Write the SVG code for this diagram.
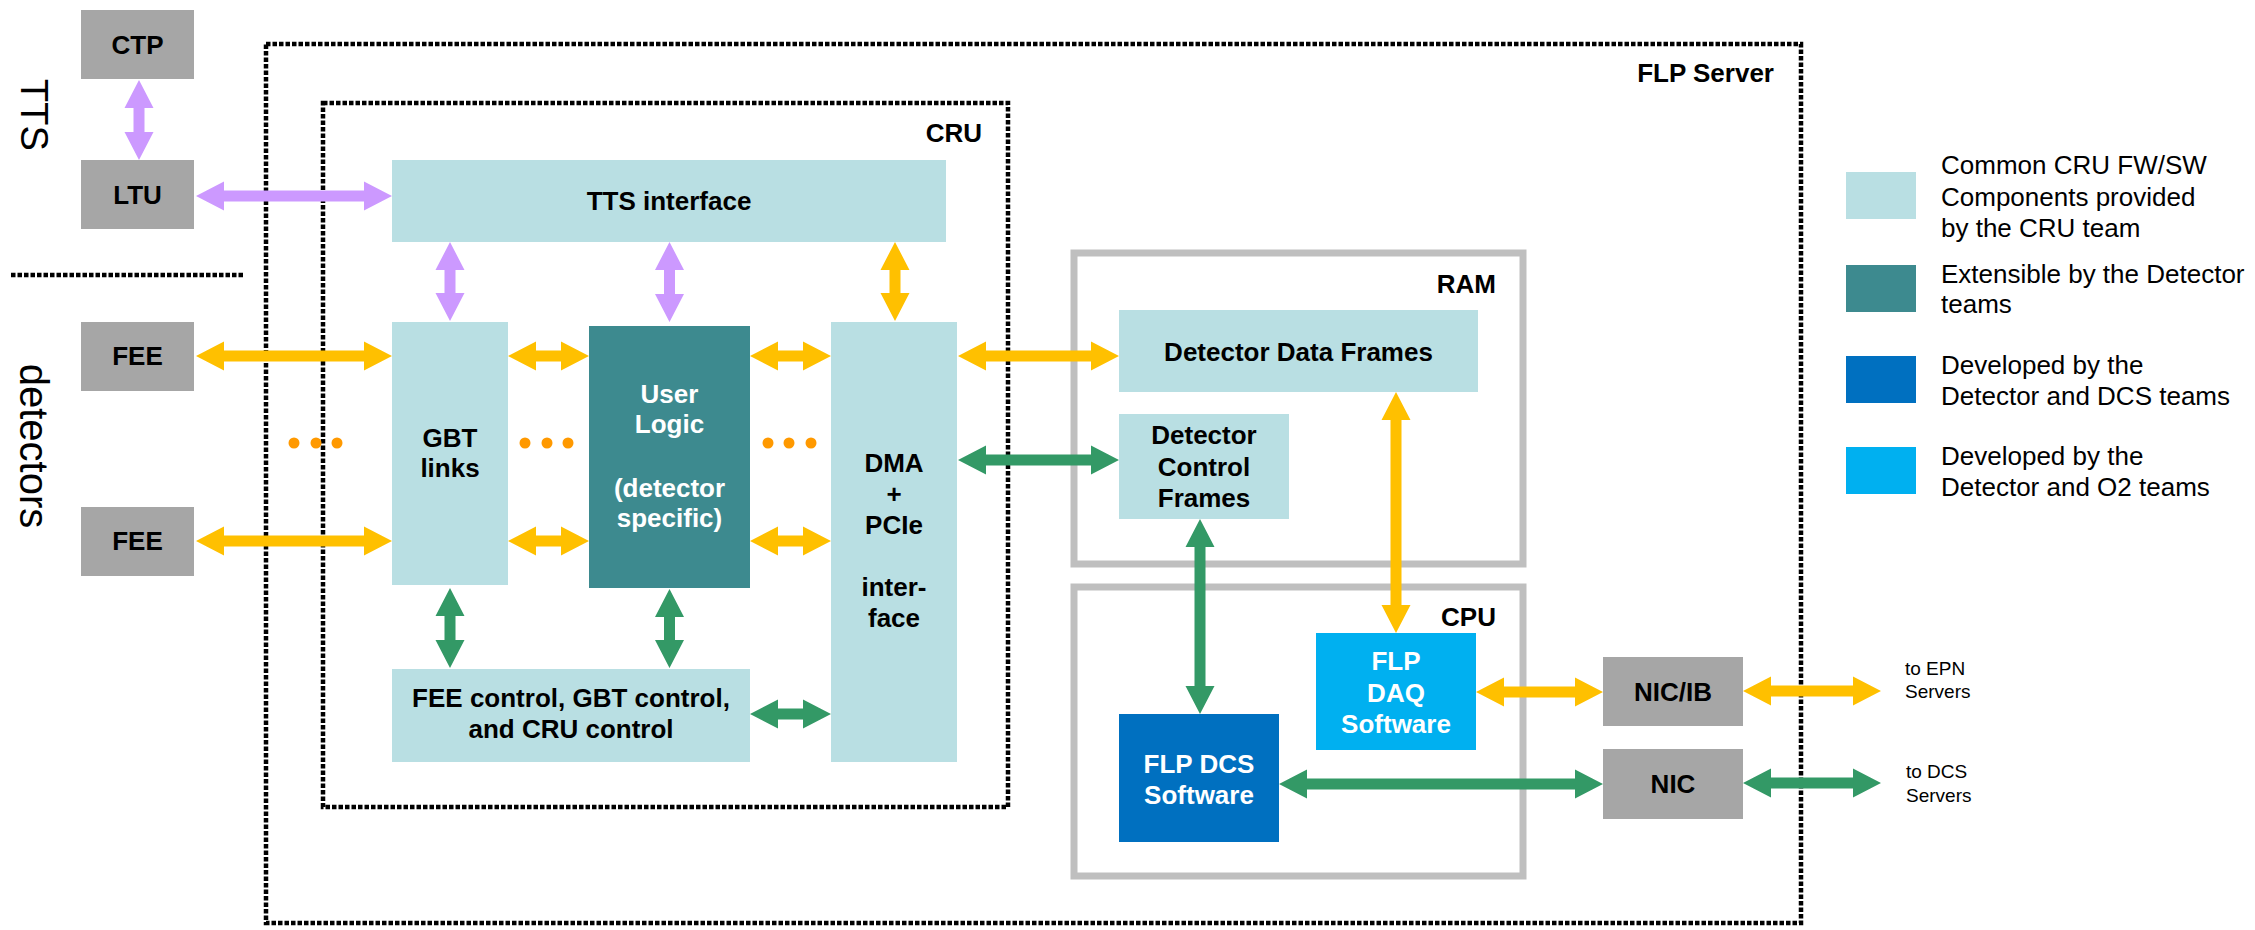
<svg xmlns="http://www.w3.org/2000/svg" width="2255" height="930" viewBox="0 0 2255 930">
<style>
text{font-family:"Liberation Sans",Arial,sans-serif;}
.b{font-weight:bold;font-size:26px;fill:#000;}
.bw{font-weight:bold;font-size:26px;fill:#fff;}
.m{text-anchor:middle;}
.e{text-anchor:end;}
.lg{font-size:26px;fill:#000;}
.sm{font-size:19px;fill:#000;}
.side{font-size:38px;fill:#000;text-anchor:middle;}
.gray{fill:#A6A6A6;}
.cyan{fill:#B9DFE3;}
.teal{fill:#3D8A8F;}
.dblue{fill:#0070C0;}
.lblue{fill:#00B0F0;}
.dot{fill:none;stroke:#000;stroke-width:4.5;stroke-dasharray:4.5 2;}
.mem{fill:none;stroke:#BFBFBF;stroke-width:7;}
.pu{fill:#CC99FF;}
.or{fill:#FFC000;}
.gr{fill:#339966;}
.od{fill:#FF9900;}
</style>

<g id="frames">
<rect class="dot" x="266" y="44" width="1535" height="879"/>
<text class="b e" x="1774" y="82">FLP Server</text>
<rect class="dot" x="323" y="103" width="685" height="704"/>
<text class="b e" x="982" y="142">CRU</text>
<line class="dot" x1="11" y1="275" x2="243" y2="275"/>
<text class="side" transform="translate(21,115) rotate(90)">TTS</text>
<text class="side" style="font-size:40px" transform="translate(20,446) rotate(90)">detectors</text>
</g>

<g id="ram">
<rect class="mem" x="1074" y="253" width="449" height="311"/>
<text class="b e" x="1496" y="293">RAM</text>
</g>
<g id="cpu">
<rect class="mem" x="1074" y="587" width="449" height="289"/>
<text class="b e" x="1496" y="626">CPU</text>
</g>

<g id="ctp"><rect class="gray" x="81" y="10" width="113" height="69"/><text class="b m" x="137.5" y="54">CTP</text></g>
<g id="ltu"><rect class="gray" x="81" y="160" width="113" height="69"/><text class="b m" x="137.5" y="204">LTU</text></g>
<g id="fee1"><rect class="gray" x="81" y="322" width="113" height="69"/><text class="b m" x="137.5" y="365">FEE</text></g>
<g id="fee2"><rect class="gray" x="81" y="507" width="113" height="69"/><text class="b m" x="137.5" y="550">FEE</text></g>

<g id="tts-interface"><rect class="cyan" x="392" y="160" width="554" height="82"/><text class="b m" x="669" y="210">TTS interface</text></g>
<g id="gbt-links"><rect class="cyan" x="392" y="322" width="116" height="263"/><text class="b m" x="450" y="447">GBT</text><text class="b m" x="450" y="477">links</text></g>
<g id="user-logic"><rect class="teal" x="589" y="326" width="161" height="262"/>
<text class="bw m" x="669.5" y="403">User</text><text class="bw m" x="669.5" y="433">Logic</text>
<text class="bw m" x="669.5" y="497">(detector</text><text class="bw m" x="669.5" y="527">specific)</text></g>
<g id="dma"><rect class="cyan" x="831" y="322" width="126" height="440"/>
<text class="b m" x="894" y="472">DMA</text><text class="b m" x="894" y="503">+</text><text class="b m" x="894" y="534">PCIe</text>
<text class="b m" x="894" y="596">inter-</text><text class="b m" x="894" y="627">face</text></g>
<g id="fee-control"><rect class="cyan" x="392" y="669" width="358" height="93"/>
<text class="b m" x="571" y="707">FEE control, GBT control,</text><text class="b m" x="571" y="738">and CRU control</text></g>

<g id="ddf"><rect class="cyan" x="1119" y="310" width="359" height="82"/><text class="b m" x="1298.5" y="361">Detector Data Frames</text></g>
<g id="dcf"><rect class="cyan" x="1119" y="414" width="170" height="105"/>
<text class="b m" x="1204" y="444">Detector</text><text class="b m" x="1204" y="476">Control</text><text class="b m" x="1204" y="507">Frames</text></g>
<g id="flp-daq"><rect class="lblue" x="1316" y="633" width="160" height="117"/>
<text class="bw m" x="1396" y="670">FLP</text><text class="bw m" x="1396" y="702">DAQ</text><text class="bw m" x="1396" y="733">Software</text></g>
<g id="flp-dcs"><rect class="dblue" x="1119" y="714" width="160" height="128"/>
<text class="bw m" x="1199" y="773">FLP DCS</text><text class="bw m" x="1199" y="804">Software</text></g>
<g id="nic-ib"><rect class="gray" x="1603" y="657" width="140" height="69"/><text class="b m" x="1673" y="701">NIC/IB</text></g>
<g id="nic"><rect class="gray" x="1603" y="749" width="140" height="70"/><text class="b m" x="1673" y="793">NIC</text></g>

<g id="outputs">
<text class="sm" x="1905" y="675">to EPN</text><text class="sm" x="1905" y="698">Servers</text>
<text class="sm" x="1906" y="778">to DCS</text><text class="sm" x="1906" y="802">Servers</text>
</g>

<g id="legend">
<rect class="cyan" x="1846" y="172" width="70" height="47"/>
<text class="lg" x="1941" y="174">Common CRU FW/SW</text><text class="lg" x="1941" y="206">Components provided</text><text class="lg" x="1941" y="237">by the CRU team</text>
<rect class="teal" x="1846" y="265" width="70" height="47"/>
<text class="lg" x="1941" y="283">Extensible by the Detector</text><text class="lg" x="1941" y="313">teams</text>
<rect class="dblue" x="1846" y="356" width="70" height="47"/>
<text class="lg" x="1941" y="374">Developed by the</text><text class="lg" x="1941" y="405">Detector and DCS teams</text>
<rect class="lblue" x="1846" y="447" width="70" height="47"/>
<text class="lg" x="1941" y="465">Developed by the</text><text class="lg" x="1941" y="496">Detector and O2 teams</text>
</g>

<g id="ellipses">
<circle class="od" cx="294" cy="443" r="5.5"/><circle class="od" cx="316" cy="443" r="5.5"/><circle class="od" cx="337" cy="443" r="5.5"/>
<circle class="od" cx="525" cy="443" r="5.5"/><circle class="od" cx="547" cy="443" r="5.5"/><circle class="od" cx="568" cy="443" r="5.5"/>
<circle class="od" cx="768" cy="443" r="5.5"/><circle class="od" cx="789" cy="443" r="5.5"/><circle class="od" cx="811" cy="443" r="5.5"/>
</g>

<g id="connectors">
<path class="pu" d="M139,80 L153.5,108 H144.5 V132 H153.5 L139,160 L124.5,132 H133.5 V108 H124.5 Z"/>
<path class="pu" d="M196,196 L224,181.5 V190.5 H364 V181.5 L392,196 L364,210.5 V201.5 H224 V210.5 Z"/>
<path class="pu" d="M450,242 L464.5,270 H455.5 V293 H464.5 L450,321 L435.5,293 H444.5 V270 H435.5 Z"/>
<path class="pu" d="M669.5,242 L684,270 H675 V294 H684 L669.5,322 L655,294 H664 V270 H655 Z"/>
<path class="or" d="M895,242 L909.5,270 H900.5 V293 H909.5 L895,321 L880.5,293 H889.5 V270 H880.5 Z"/>
<path class="or" d="M196,356 L224,341.5 V350.5 H364 V341.5 L392,356 L364,370.5 V361.5 H224 V370.5 Z"/>
<path class="or" d="M196,541 L224,526.5 V535.5 H364 V526.5 L392,541 L364,555.5 V546.5 H224 V555.5 Z"/>
<path class="or" d="M508,356 L536,341.5 V350.5 H561 V341.5 L589,356 L561,370.5 V361.5 H536 V370.5 Z"/>
<path class="or" d="M508,541 L536,526.5 V535.5 H561 V526.5 L589,541 L561,555.5 V546.5 H536 V555.5 Z"/>
<path class="or" d="M750,356 L778,341.5 V350.5 H803 V341.5 L831,356 L803,370.5 V361.5 H778 V370.5 Z"/>
<path class="or" d="M750,541 L778,526.5 V535.5 H803 V526.5 L831,541 L803,555.5 V546.5 H778 V555.5 Z"/>
<path class="or" d="M958,356 L986,341.5 V350.5 H1091 V341.5 L1119,356 L1091,370.5 V361.5 H986 V370.5 Z"/>
<path class="or" d="M1396,392 L1410.5,420 H1401.5 V605 H1410.5 L1396,633 L1381.5,605 H1390.5 V420 H1381.5 Z"/>
<path class="or" d="M1476,692 L1504,677.5 V686.5 H1575 V677.5 L1603,692 L1575,706.5 V697.5 H1504 V706.5 Z"/>
<path class="or" d="M1743,691 L1771,676.5 V685.5 H1853 V676.5 L1881,691 L1853,705.5 V696.5 H1771 V705.5 Z"/>
<path class="gr" d="M958,460 L986,445.5 V454.5 H1091 V445.5 L1119,460 L1091,474.5 V465.5 H986 V474.5 Z"/>
<path class="gr" d="M450,588 L464.5,616 H455.5 V640 H464.5 L450,668 L435.5,640 H444.5 V616 H435.5 Z"/>
<path class="gr" d="M669.5,589 L684,617 H675 V640 H684 L669.5,668 L655,640 H664 V617 H655 Z"/>
<path class="gr" d="M750,714 L778,699.5 V708.5 H803 V699.5 L831,714 L803,728.5 V719.5 H778 V728.5 Z"/>
<path class="gr" d="M1200,519 L1214.5,547 H1205.5 V686 H1214.5 L1200,714 L1185.5,686 H1194.5 V547 H1185.5 Z"/>
<path class="gr" d="M1279,784 L1307,769.5 V778.5 H1575 V769.5 L1603,784 L1575,798.5 V789.5 H1307 V798.5 Z"/>
<path class="gr" d="M1743,783 L1771,768.5 V777.5 H1853 V768.5 L1881,783 L1853,797.5 V788.5 H1771 V797.5 Z"/>
</g>
</svg>
